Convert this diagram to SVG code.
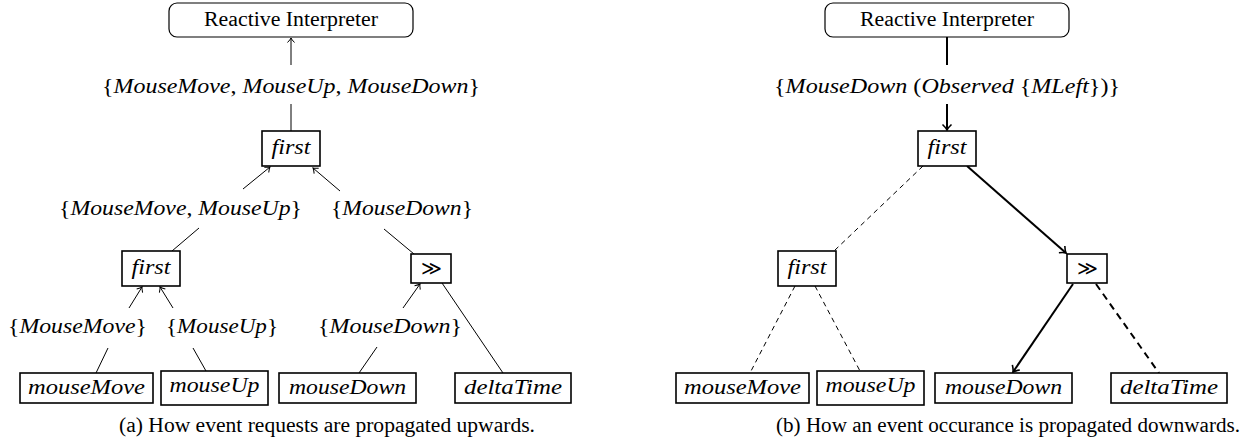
<svg xmlns="http://www.w3.org/2000/svg" width="1246" height="448" viewBox="0 0 1246 448">
<style>
.bg{fill:#fff}
.box{fill:#fff;stroke:#000;stroke-width:1.6}
.ibox{fill:#fff;stroke:#000;stroke-width:1.2}
.rm{font-family:"Liberation Serif","Times New Roman",serif;font-size:20px;fill:#000}
.mi{font-family:"Liberation Serif","Times New Roman",serif;font-style:italic;font-size:20px;fill:#000}
.up{font-style:normal}
.sym{font-family:"DejaVu Serif",serif;font-size:20px;fill:#000}
.thin{stroke:#000;stroke-width:1;fill:none}
.thick{stroke:#000;stroke-width:2;fill:none}
.dash{stroke:#000;stroke-width:1;fill:none;stroke-dasharray:5 4}
.tdash{stroke:#000;stroke-width:2;fill:none;stroke-dasharray:7 5}
</style>
<defs>
<marker id="ah" markerUnits="userSpaceOnUse" markerWidth="12" markerHeight="12" viewBox="-6 -6 12 12" refX="0" refY="0" orient="auto">
<path d="M-4.5,-3.5 Q-1.5,-0.6 0,0 Q-1.5,0.6 -4.5,3.5" fill="none" stroke="#000" stroke-width="1"/>
</marker>
<marker id="ahb" markerUnits="userSpaceOnUse" markerWidth="14" markerHeight="14" viewBox="-7 -7 14 14" refX="0" refY="0" orient="auto">
<path d="M-5.5,-4.5 Q-2,-0.8 0,0 Q-2,0.8 -5.5,4.5" fill="none" stroke="#000" stroke-width="1.6"/>
</marker>
</defs>
<rect class="bg" x="0" y="0" width="1246" height="448"/>

<g id="connectors">
<!-- panel a -->
<line class="thin" x1="291" y1="65" x2="291" y2="38" marker-end="url(#ah)"/>
<line class="thin" x1="291" y1="104" x2="291" y2="131"/>
<line class="thin" x1="243" y1="189" x2="270" y2="167" marker-end="url(#ah)"/>
<line class="thin" x1="340" y1="191" x2="313" y2="168" marker-end="url(#ah)"/>
<line class="thin" x1="199" y1="228" x2="172" y2="251"/>
<line class="thin" x1="384" y1="229" x2="414" y2="254"/>
<line class="thin" x1="129" y1="308" x2="142" y2="287" marker-end="url(#ah)"/>
<line class="thin" x1="173" y1="308" x2="160" y2="287" marker-end="url(#ah)"/>
<line class="thin" x1="403" y1="308" x2="420" y2="284" marker-end="url(#ah)"/>
<line class="thin" x1="442" y1="283" x2="503" y2="373"/>
<line class="thin" x1="108" y1="348" x2="96" y2="373"/>
<line class="thin" x1="193" y1="348" x2="206" y2="371"/>
<line class="thin" x1="377" y1="347" x2="359" y2="373"/>
<!-- panel b -->
<line class="thick" x1="947" y1="37" x2="947" y2="65"/>
<line class="thick" x1="947" y1="104" x2="947" y2="130" marker-end="url(#ahb)"/>
<line class="dash" x1="923" y1="166" x2="834" y2="251"/>
<line class="thick" x1="967" y1="166" x2="1066" y2="253" marker-end="url(#ahb)"/>
<line class="thick" x1="1073" y1="284" x2="1013" y2="372" marker-end="url(#ahb)"/>
<line class="tdash" x1="1096" y1="284" x2="1159" y2="373"/>
<line class="dash" x1="795" y1="286" x2="750" y2="373"/>
<line class="dash" x1="815" y1="286" x2="860" y2="371"/>
</g>

<g id="labels-a">
<text class="mi" x="291" y="93" text-anchor="middle" textLength="378" lengthAdjust="spacingAndGlyphs"><tspan class="up">{</tspan>MouseMove<tspan class="up">, </tspan>MouseUp<tspan class="up">, </tspan>MouseDown<tspan class="up">}</tspan></text>
<text class="mi" x="180.5" y="215" text-anchor="middle" textLength="243" lengthAdjust="spacingAndGlyphs"><tspan class="up">{</tspan>MouseMove<tspan class="up">, </tspan>MouseUp<tspan class="up">}</tspan></text>
<text class="mi" x="402" y="215" text-anchor="middle" textLength="142" lengthAdjust="spacingAndGlyphs"><tspan class="up">{</tspan>MouseDown<tspan class="up">}</tspan></text>
<text class="mi" x="77.5" y="333" text-anchor="middle" textLength="139" lengthAdjust="spacingAndGlyphs"><tspan class="up">{</tspan>MouseMove<tspan class="up">}</tspan></text>
<text class="mi" x="222" y="333" text-anchor="middle" textLength="112" lengthAdjust="spacingAndGlyphs"><tspan class="up">{</tspan>MouseUp<tspan class="up">}</tspan></text>
<text class="mi" x="390" y="333" text-anchor="middle" textLength="144" lengthAdjust="spacingAndGlyphs"><tspan class="up">{</tspan>MouseDown<tspan class="up">}</tspan></text>
</g>
<g id="labels-b">
<text class="mi" x="947" y="93" text-anchor="middle" textLength="346" lengthAdjust="spacingAndGlyphs"><tspan class="up">{</tspan>MouseDown <tspan class="up">(</tspan>Observed <tspan class="up">{</tspan>MLeft<tspan class="up">})}</tspan></text>
</g>

<!-- panel a nodes -->
<g id="interp-a"><rect class="ibox" x="169" y="3" width="244" height="34" rx="8"/><text class="rm" x="291" y="26" text-anchor="middle" textLength="174" lengthAdjust="spacingAndGlyphs">Reactive Interpreter</text></g>
<g id="first-a-top"><rect class="box" x="262" y="131" width="58" height="35"/><text class="mi" x="291" y="154" text-anchor="middle" textLength="39" lengthAdjust="spacingAndGlyphs">first</text></g>
<g id="first-a-mid"><rect class="box" x="122" y="251" width="58" height="35"/><text class="mi" x="151" y="274" text-anchor="middle" textLength="39" lengthAdjust="spacingAndGlyphs">first</text></g>
<g id="seq-a"><rect class="box" x="411" y="254" width="40" height="29"/><text class="sym" x="431" y="275" text-anchor="middle">≫</text></g>
<g id="mouseMove-a"><rect class="box" x="20" y="373" width="133" height="30"/><text class="mi" x="86.5" y="394" text-anchor="middle" textLength="117" lengthAdjust="spacingAndGlyphs">mouseMove</text></g>
<g id="mouseUp-a"><rect class="box" x="161" y="371" width="107" height="34"/><text class="mi" x="214.5" y="392" text-anchor="middle" textLength="90" lengthAdjust="spacingAndGlyphs">mouseUp</text></g>
<g id="mouseDown-a"><rect class="box" x="279" y="373" width="137" height="30"/><text class="mi" x="347.5" y="394" text-anchor="middle" textLength="117" lengthAdjust="spacingAndGlyphs">mouseDown</text></g>
<g id="deltaTime-a"><rect class="box" x="455" y="373" width="116" height="30"/><text class="mi" x="513" y="394" text-anchor="middle" textLength="98" lengthAdjust="spacingAndGlyphs">deltaTime</text></g>

<!-- panel b nodes -->
<g id="interp-b"><rect class="ibox" x="825" y="3" width="244" height="34" rx="8"/><text class="rm" x="947" y="26" text-anchor="middle" textLength="174" lengthAdjust="spacingAndGlyphs">Reactive Interpreter</text></g>
<g id="first-b-top"><rect class="box" x="918" y="131" width="58" height="35"/><text class="mi" x="947" y="154" text-anchor="middle" textLength="39" lengthAdjust="spacingAndGlyphs">first</text></g>
<g id="first-b-mid"><rect class="box" x="778" y="251" width="58" height="35"/><text class="mi" x="807" y="274" text-anchor="middle" textLength="39" lengthAdjust="spacingAndGlyphs">first</text></g>
<g id="seq-b"><rect class="box" x="1067" y="254" width="40" height="29"/><text class="sym" x="1087" y="275" text-anchor="middle">≫</text></g>
<g id="mouseMove-b"><rect class="box" x="676" y="373" width="133" height="30"/><text class="mi" x="742.5" y="394" text-anchor="middle" textLength="117" lengthAdjust="spacingAndGlyphs">mouseMove</text></g>
<g id="mouseUp-b"><rect class="box" x="817" y="371" width="107" height="34"/><text class="mi" x="870.5" y="392" text-anchor="middle" textLength="90" lengthAdjust="spacingAndGlyphs">mouseUp</text></g>
<g id="mouseDown-b"><rect class="box" x="935" y="373" width="137" height="30"/><text class="mi" x="1003.5" y="394" text-anchor="middle" textLength="117" lengthAdjust="spacingAndGlyphs">mouseDown</text></g>
<g id="deltaTime-b"><rect class="box" x="1111" y="373" width="116" height="30"/><text class="mi" x="1169" y="394" text-anchor="middle" textLength="98" lengthAdjust="spacingAndGlyphs">deltaTime</text></g>

<g id="captions">
<text class="rm" x="119" y="432" textLength="416" lengthAdjust="spacingAndGlyphs">(a) How event requests are propagated upwards.</text>
<text class="rm" x="776" y="432" textLength="464" lengthAdjust="spacingAndGlyphs">(b) How an event occurance is propagated downwards.</text>
</g>
</svg>
